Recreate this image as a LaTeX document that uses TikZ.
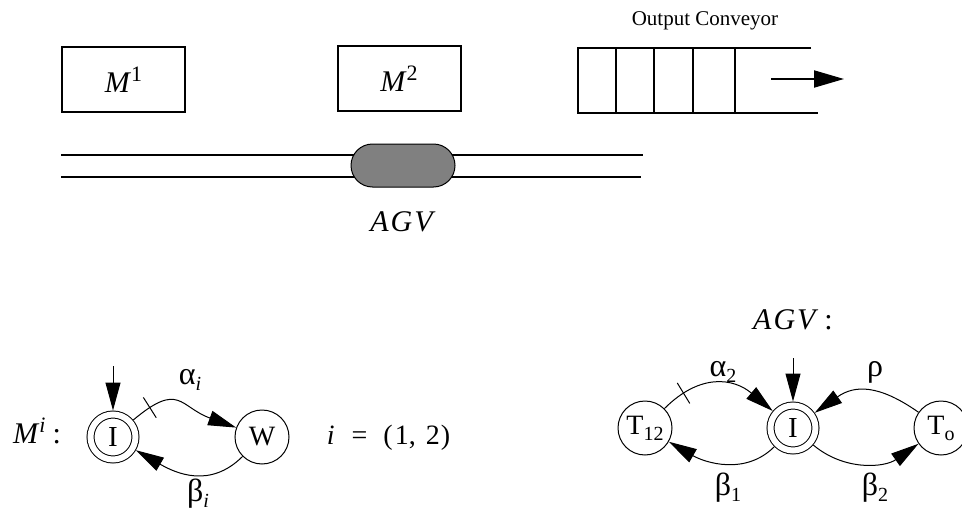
\documentclass[tikz,border=0pt]{standalone}
\usepackage{fontspec}
\setmainfont{Liberation Serif}
\usetikzlibrary{arrows.meta,decorations.markings}
\definecolor{agvgray}{HTML}{808080}
\tikzset{
  machbox/.style={draw, line width=2pt, minimum width=123pt, minimum height=65pt, inner sep=0pt, font=\fontsize{30}{30}\selectfont},
  st/.style={circle, draw, line width=1pt, minimum size=54pt, inner sep=0pt, font=\fontsize{28}{28}\selectfont},
  acc/.style={circle, draw, line width=1pt, double, double distance=6pt, minimum size=45pt, inner sep=0pt, outer sep=4pt, font=\fontsize{29}{29}\selectfont},
  tr/.style={line width=1pt, -{Triangle[length=28pt,width=15pt]}},
  ticked/.style={postaction={decorate}, decoration={markings, mark=at position #1 with {\draw[-, line width=1pt] (0,-12pt) -- (0,12pt);}}},
  gk/.style={inner sep=0pt, font=\fontsize{32}{32}\selectfont},
  lbl/.style={inner sep=0pt, font=\fontsize{30}{30}\selectfont},
  thick2/.style={line width=2pt},
}
\newcommand{\supsc}[1]{\raisebox{11pt}{\fontsize{22}{22}\selectfont #1}}
\newcommand{\subsc}[1]{\raisebox{-6pt}{\fontsize{20}{20}\selectfont #1}}
\begin{document}
\begin{tikzpicture}[x=1pt,y=1pt]
\useasboundingbox (0,0) rectangle (962,-514);
% machines
\node[machbox] (m1) at (123.5,-79.5) {\textit{M}\supsc{1}};
\node[machbox] (m2) at (399,-78.5) {\textit{M}\supsc{2}};
% track
\coordinate (ta1) at (61,-155); \coordinate (ta2) at (643,-155);
\coordinate (tb1) at (61,-177); \coordinate (tb2) at (641,-177);
\draw[thick2] (ta1) -- (ta2);
\draw[thick2] (tb1) -- (tb2);
\node[draw, line width=1pt, fill=agvgray, rounded corners=21.5pt, minimum width=104pt, minimum height=43pt, inner sep=0pt] (agv) at (403,-165.5) {};
\node[lbl] (agvlbl) at (403,-222) {\textit{A\kern2pt G\kern2pt V}};
% conveyor
\node[inner sep=0pt, font=\fontsize{21}{21}\selectfont] (oc) at (705,-21) {Output Conveyor};
\draw[thick2] (811,-48) -- (578,-48) -- (578,-113) -- (818,-113);
\foreach \xx in {616,654,693,735} { \draw[thick2] (\xx,-48) -- (\xx,-113); }
\coordinate (ca) at (771,-79); \coordinate (cb) at (844,-79);
\draw[thick2, -{Triangle[length=30pt,width=17pt]}] (ca) -- (cb);
% M^i automaton
\node[lbl] (mlbl) at (37,-431) {\textit{M}\supsc{\textit{i}}\hspace{7pt}:};
\node[acc] (i1) at (113,-437) {I};
\node[st] (w1) at (262,-437) {W};
\coordinate (s1) at (113,-366);
\draw[tr] (s1) -- (i1);
\draw[tr, ticked=0.18] (i1) to[out=40,in=160,looseness=1.5] (w1);
\draw[tr] (w1) to[out=225,in=-30,looseness=1.1] (i1);
\node[gk] (la1) at (190,-380) {α\subsc{\textit{i}}};
\node[gk] (lb1) at (198,-494) {β\subsc{\textit{i}}};
\node[lbl, font=\fontsize{28}{28}\selectfont] (ilbl) at (388.5,-438) {\textit{i}\hspace{17pt}=\hspace{16pt}(\hspace{2pt}1,\hspace{10pt}2\hspace{1pt})};
% AGV automaton
\node[lbl] (agvt) at (793,-320) {\textit{A\kern2pt G\kern2pt V}\hspace{6pt}:};
\node[st] (t12) at (645,-428) {T\subsc{12}};
\node[acc] (i2) at (793,-428) {I};
\node[st] (tout) at (941,-428) {T\subsc{o}};
\coordinate (s2) at (793,-358);
\draw[tr] (s2) -- (i2);
\draw[tr, ticked=0.2] (t12) to[out=45,in=140,looseness=1.2] (i2);
\draw[tr] (tout) to[out=145,in=35,looseness=1.2] (i2);
\draw[tr] (i2) to[out=225,in=-30,looseness=1.0] (t12);
\draw[tr] (i2) to[out=-40,in=215,looseness=1.0] (tout);
\node[gk] (la2) at (723,-372) {α\subsc{2}};
\node[gk] (lr) at (875,-372) {ρ};
\node[gk] (lb2) at (728,-488) {β\subsc{1}};
\node[gk] (lb3) at (875,-488) {β\subsc{2}};
\end{tikzpicture}
\end{document}
